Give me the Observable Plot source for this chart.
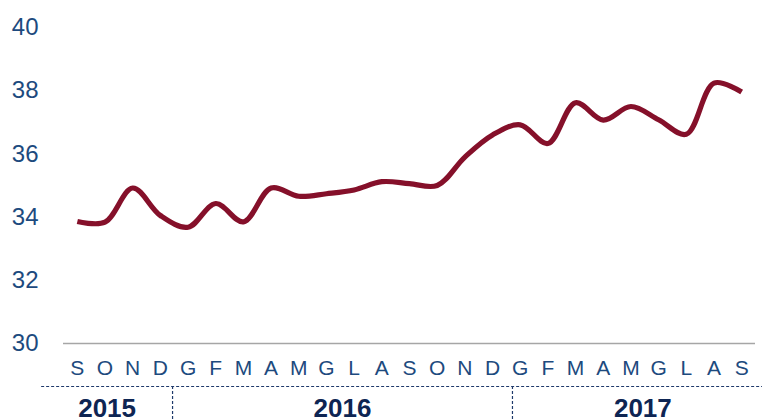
<!DOCTYPE html>
<html>
<head>
<meta charset="utf-8">
<script src="https://cdn.jsdelivr.net/npm/d3@7"></script>
<script src="https://cdn.jsdelivr.net/npm/@observablehq/plot@0.6"></script>
<style>
  html, body { margin: 0; padding: 0; background: #fff; }
  #chart svg { display: block; }
</style>
</head>
<body>
<div id="chart"></div>
<script>
// Month initials (Italian), Sep 2015 – Sep 2017
const months = ["S","O","N","D","G","F","M","A","M","G","L","A","S","O","N","D","G","F","M","A","M","G","L","A","S"];
const values = [33.86, 33.84, 34.92, 34.05, 33.68, 34.43, 33.85, 34.92, 34.66, 34.74, 34.86, 35.12, 35.06, 35.0, 35.9, 36.6, 36.92, 36.33, 37.62, 37.07, 37.5, 37.08, 36.62, 38.24, 37.96];
const years = ["2015", "2016", "2017"];
const monthsPerYear = [4, 12, 9];
const yTicks = [30, 32, 34, 36, 38, 40];

const data = values.map((v, i) => ({i, v, m: months[i]}));

// year separators (between months) and label centres, in month-index units
const leftEdge = -1.29, rightEdge = 25.14;
const seps = [3.44, 15.72];
const edges = [leftEdge, ...seps, rightEdge];
const yearLabels = years.map((y, k) => ({year: y, x: (edges[k] + edges[k + 1]) / 2}));

const font = "'Liberation Sans', Arial, Helvetica, sans-serif";
const tickColor = "#1d4a7e";
const navy = "#1f3a6b";

const plot = Plot.plot({
  width: 762,
  height: 419,
  marginTop: 27,
  marginBottom: 76,
  marginLeft: 63,
  marginRight: 7,
  style: {fontFamily: font, background: "#fff", overflow: "visible"},
  x: {domain: [-0.5, 24.5]},
  y: {domain: [30, 40]},
  marks: [
    Plot.axisY(yTicks, {tickSize: 0, tickPadding: 25, fontSize: 24, fill: tickColor, label: null}),
    Plot.axisX(d3.range(months.length), {tickSize: 0, tickPadding: 17, fontSize: 21, fill: tickColor, tickFormat: i => months[i], label: null}),
    Plot.ruleY([30], {stroke: "#a6a6a6", strokeWidth: 1.6}),
    Plot.line(data, {x: "i", y: "v", stroke: "#85102a", strokeWidth: 5.2, curve: "catmull-rom", strokeLinejoin: "round", strokeLinecap: "butt"}),
    Plot.ruleY([30], {x1: leftEdge, x2: rightEdge, dy: 43, stroke: navy, strokeWidth: 1.2, strokeDasharray: "3,2", clip: false}),
    Plot.ruleX(seps, {y1: 28.64, y2: 27.4, stroke: navy, strokeWidth: 1.2, strokeDasharray: "3,2", clip: false}),
    Plot.text(yearLabels, {x: "x", text: "year", frameAnchor: "bottom", dy: 55, lineAnchor: "top", fontSize: 26, fontWeight: "bold", fill: "#0e2553", textAnchor: "middle"})
  ]
});
document.getElementById("chart").appendChild(plot);
</script>
</body>
</html>
